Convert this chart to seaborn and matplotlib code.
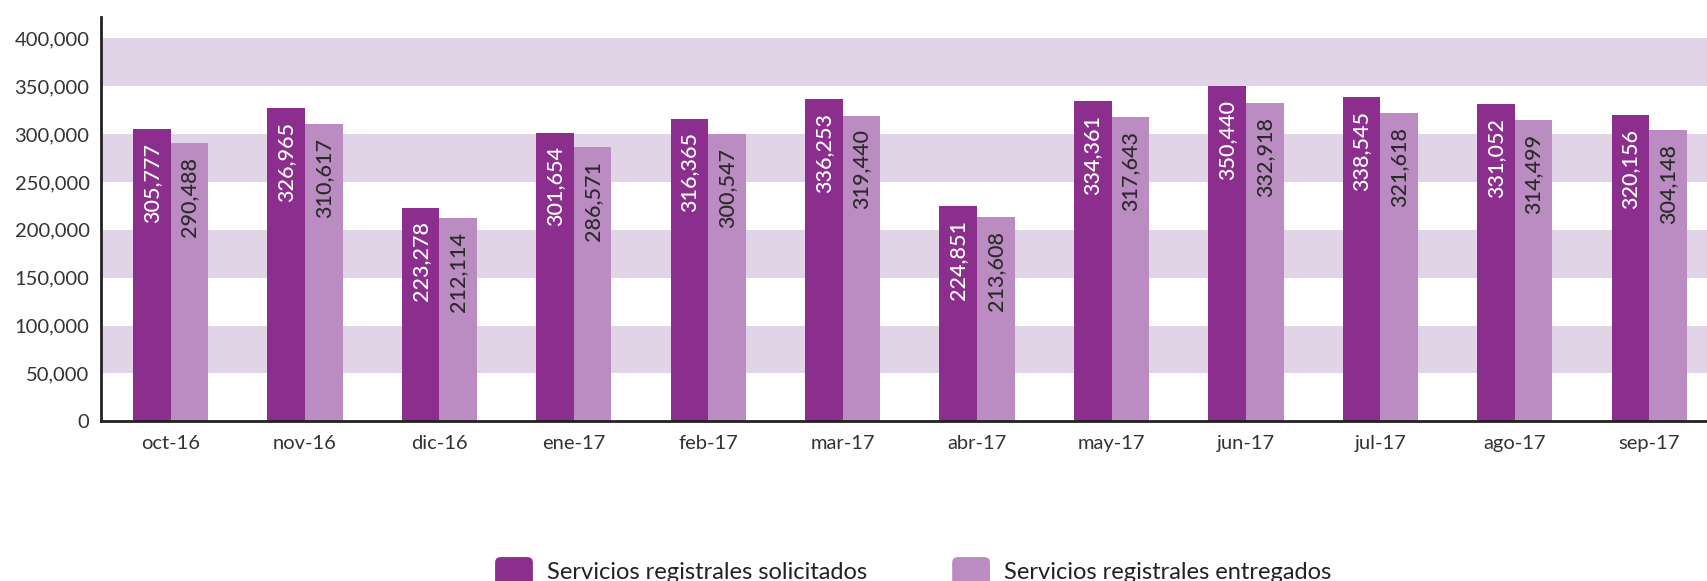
import numpy as np
import pandas as pd
import matplotlib
matplotlib.use("Agg")
import matplotlib.pyplot as plt
import matplotlib.ticker as mtick
from matplotlib.patches import Patch, FancyBboxPatch
from matplotlib.legend_handler import HandlerPatch
import seaborn as sns

meses = ["oct-16", "nov-16", "dic-16", "ene-17", "feb-17", "mar-17",
         "abr-17", "may-17", "jun-17", "jul-17", "ago-17", "sep-17"]
solicitados = [305777, 326965, 223278, 301654, 316365, 336253,
               224851, 334361, 350440, 338545, 331052, 320156]
entregados = [290488, 310617, 212114, 286571, 300547, 319440,
              213608, 317643, 332918, 321618, 314499, 304148]
series = ["Servicios registrales solicitados", "Servicios registrales entregados"]
yticks = [0, 50000, 100000, 150000, 200000, 250000, 300000, 350000, 400000]

COLOR_DARK = "#8B2E8E"
COLOR_LIGHT = "#BA8CC1"
COLOR_BAND = "#E2D4E7"

sns.set_style("white")
plt.rcParams["font.family"] = ["Lato", "DejaVu Sans"]


class RoundBox(HandlerPatch):
    # rounded square legend keys
    def create_artists(self, legend, orig_handle, xdescent, ydescent, width, height, fontsize, trans):
        p = FancyBboxPatch((-xdescent, -ydescent), width, height,
                           boxstyle="round,pad=0,rounding_size=4",
                           facecolor=orig_handle.get_facecolor(), lw=0, transform=trans)
        return [p]


df = pd.DataFrame({
    "mes": meses * 2,
    "valor": solicitados + entregados,
    "serie": [series[0]] * len(meses) + [series[1]] * len(meses),
})

fig = plt.figure(figsize=(17.07, 5.81), dpi=100)
ax = fig.add_axes([0.059, 0.275, 0.941, 0.695])

# alternating background bands
for lo in [50000, 150000, 250000, 350000]:
    ax.axhspan(lo, lo + 50000, color=COLOR_BAND, zorder=0, lw=0)

sns.barplot(data=df, x="mes", y="valor", hue="serie", palette=[COLOR_DARK, COLOR_LIGHT],
            width=0.56, saturation=1, ax=ax, zorder=2, legend=False, linewidth=0)

# value labels inside the bars
for cont, col in zip(ax.containers, ["white", "#2a2a2a"]):
    for bar in cont:
        h = bar.get_height()
        ax.annotate(f"{h:,.0f}", (bar.get_x() + bar.get_width() / 2, h),
                    xytext=(0, -10), textcoords="offset points",
                    rotation=90, ha="center", va="top", color=col, fontsize=15.5,
                    fontweight="medium", zorder=3)

ax.set_ylim(0, 422000)
ax.set_xlim(-0.52, 11.43)
ax.set_yticks(yticks)
ax.yaxis.set_major_formatter(mtick.StrMethodFormatter("{x:,.0f}"))
ax.set_xlabel("")
ax.set_ylabel("")
ax.tick_params(axis="y", direction="inout", length=12, width=2, color="#222222",
               labelsize=14.5, labelcolor="#333333", pad=2)
ax.tick_params(axis="x", length=0, labelsize=14.5, labelcolor="#333333", pad=10)

sns.despine(ax=ax)
for s in ["left", "bottom"]:
    ax.spines[s].set_linewidth(2)
    ax.spines[s].set_color("#222222")

handles = [Patch(facecolor=COLOR_DARK, label=series[0]),
           Patch(facecolor=COLOR_LIGHT, label=series[1])]
fig.legend(handles=handles, loc="lower center", bbox_to_anchor=(0.535, -0.045), ncol=2,
           frameon=False, fontsize=17, handlelength=1.6, handleheight=1.5,
           columnspacing=3.6, handletextpad=0.6, labelcolor="#222222",
           handler_map={Patch: RoundBox()})

fig.savefig("out.png", dpi=100)
